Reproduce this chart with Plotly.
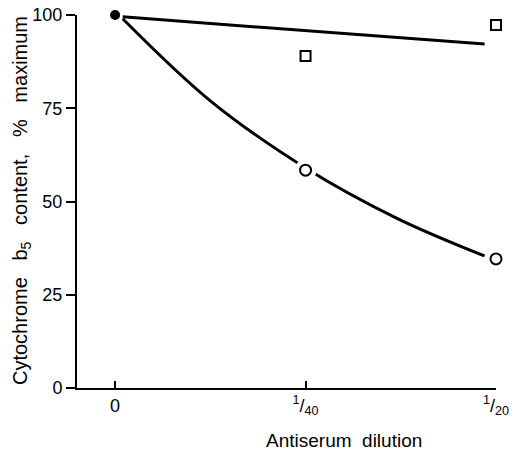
import plotly.graph_objects as go

# Data
x_ticks = [0, 0.025, 0.05]
x_tick_labels = ["0", "<sup>1</sup>/<sub>40</sub>", "<sup>1</sup>/<sub>20</sub>"]
y_ticks = [0, 25, 50, 75, 100]

control_x = [0]
control_y = [100]

square_x = [0.025, 0.05]
square_y = [89, 97.3]

circle_x = [0.025, 0.05]
circle_y = [58.4, 34.6]

# fitted lines
top_line_x = [0.001, 0.0485]
top_line_y = [99.5, 92.2]

curve_x = [0.001, 0.0125, 0.025, 0.037, 0.0485]
curve_y = [99.0, 77.0, 59.0, 45.5, 35.4]

font_family = "Liberation Sans, Arial, sans-serif"

W, H = 522, 459
L, R, T, B = 77, 26, 15, 71
pw, ph = W - L - R, H - T - B


def px_x(page_x):
    return (page_x - L) / pw


def px_y(page_y):
    return ((H - B) - page_y) / ph


fig = go.Figure()

fig.add_trace(go.Scatter(x=top_line_x, y=top_line_y, mode="lines",
                         line=dict(color="black", width=3), cliponaxis=False))
fig.add_trace(go.Scatter(x=curve_x, y=curve_y, mode="lines",
                         line=dict(color="black", width=3, shape="spline", smoothing=1.0),
                         cliponaxis=False))
# white halos leaving gaps in the curve around circle markers
fig.add_trace(go.Scatter(x=circle_x, y=circle_y, mode="markers",
                         marker=dict(symbol="circle", size=22, color="white", line=dict(width=0)),
                         cliponaxis=False))
fig.add_trace(go.Scatter(x=circle_x, y=circle_y, mode="markers",
                         marker=dict(symbol="circle", size=11, color="white",
                                     line=dict(color="black", width=2)),
                         cliponaxis=False))
fig.add_trace(go.Scatter(x=square_x, y=square_y, mode="markers",
                         marker=dict(symbol="square", size=10, color="white",
                                     line=dict(color="black", width=2)),
                         cliponaxis=False))
fig.add_trace(go.Scatter(x=control_x, y=control_y, mode="markers",
                         marker=dict(symbol="circle", size=10, color="black"),
                         cliponaxis=False))

sp = "&nbsp;&nbsp;&nbsp;"
y_title = f"Cytochrome{sp}b<sub>5</sub>{sp}content,{sp}%{sp}maximum"

fig.update_layout(
    width=W, height=H,
    margin=dict(l=L, r=R, t=T, b=B, autoexpand=False),
    paper_bgcolor="white", plot_bgcolor="white",
    showlegend=False,
    font=dict(family=font_family, color="black", size=17),
    xaxis=dict(
        range=[-0.005, 0.05],
        tickvals=x_ticks, ticktext=x_tick_labels,
        ticks="inside", ticklen=7, tickwidth=2, tickcolor="black",
        showline=True, linecolor="black", linewidth=2,
        showgrid=False, zeroline=False, automargin=False,
        ticklabeloverflow="allow",
        tickfont=dict(size=18),
    ),
    yaxis=dict(
        range=[0, 100],
        tickvals=y_ticks,
        ticks="outside", ticklen=9, tickwidth=2, tickcolor="black",
        showline=True, linecolor="black", linewidth=2,
        showgrid=False, zeroline=False, automargin=False,
        ticklabeloverflow="allow",
        tickfont=dict(size=18),
    ),
    annotations=[
        dict(text="Antiserum&nbsp;&nbsp;dilution", xref="paper", yref="paper",
             x=px_x(344), y=px_y(440),
             xanchor="center", yanchor="middle",
             showarrow=False, font=dict(size=19)),
        dict(text=y_title,
             xref="paper", yref="paper",
             x=px_x(21), y=px_y(201),
             xanchor="center", yanchor="middle", textangle=-90,
             showarrow=False, font=dict(size=20)),
    ],
)

fig.write_html(
    "out.html",
    config={"displayModeBar": False},
    post_script="document.body.style.margin='0';document.body.style.padding='0';",
)
